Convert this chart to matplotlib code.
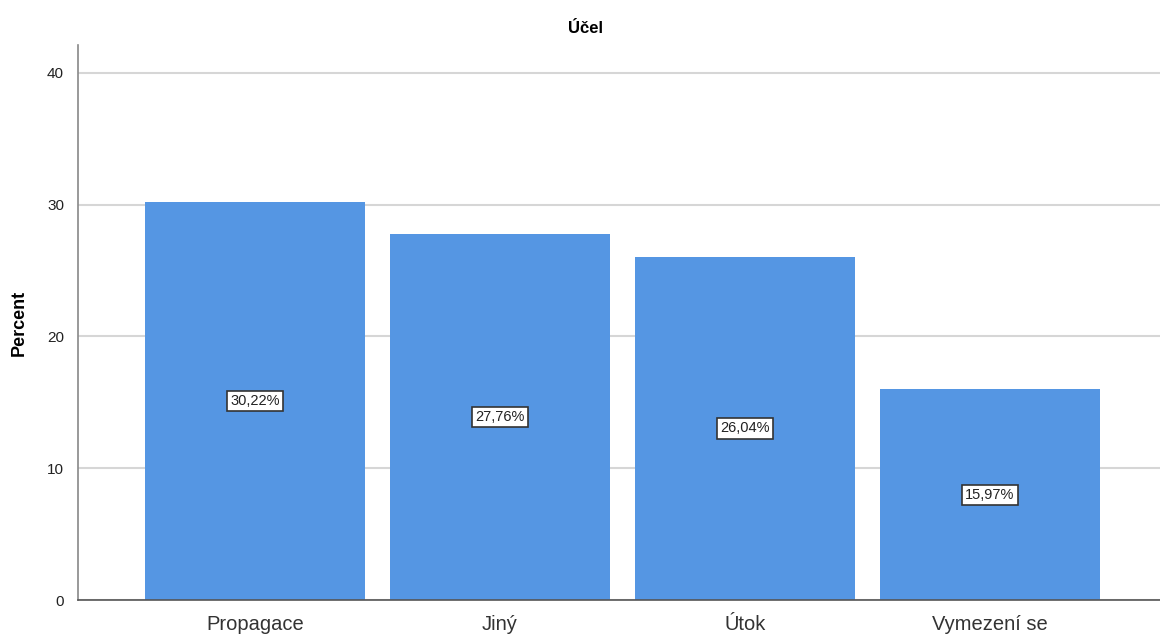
import matplotlib.pyplot as plt

plt.rcParams['font.family'] = ['Liberation Sans', 'DejaVu Sans']

categories = ['Propagace', 'Jiný', 'Útok', 'Vymezení se']
percents = [30.22, 27.76, 26.04, 15.97]
value_labels = ['30,22%', '27,76%', '26,04%', '15,97%']
y_ticks = [0, 10, 20, 30, 40]

fig = plt.figure(figsize=(11.6, 6.34), dpi=100)
ax = fig.add_axes([0.0672, 0.0536, 0.9328, 0.8754])

x = range(len(categories))
bars = ax.bar(x, percents, width=0.898, color='#5596e3', zorder=2)

for b, lab in zip(bars, value_labels):
    ax.text(b.get_x() + b.get_width() / 2, b.get_height() / 2, lab,
            ha='center', va='center', fontsize=10.5, color='#222222', zorder=3,
            bbox=dict(boxstyle='square,pad=0.22', facecolor='white',
                      edgecolor='#333333', linewidth=1.2))

ax.set_xlim(-0.722, 3.694)
ax.set_ylim(0, 42.1)
ax.set_yticks(y_ticks)
ax.set_yticklabels([str(t) for t in y_ticks], fontsize=11, color='#222222')
ax.set_xticks(list(x))
ax.set_xticklabels(categories, fontsize=14.5, color='#333333')
ax.tick_params(axis='x', length=0, pad=11)
ax.tick_params(axis='y', length=0, pad=10)

ax.yaxis.grid(True, color='#d6d6d6', linewidth=1.5, zorder=0)
ax.set_axisbelow(True)

for s in ['top', 'right']:
    ax.spines[s].set_visible(False)
ax.spines['left'].set_color('#888888')
ax.spines['left'].set_linewidth(1.2)
ax.spines['bottom'].set_color('#555555')
ax.spines['bottom'].set_linewidth(1.2)

ax.set_ylabel('Percent', fontsize=13, fontweight='bold', labelpad=14)
fig.text(0.505, 0.955, 'Účel', ha='center', va='center',
         fontsize=12, fontweight='bold')

plt.savefig('out.png', dpi=100)
